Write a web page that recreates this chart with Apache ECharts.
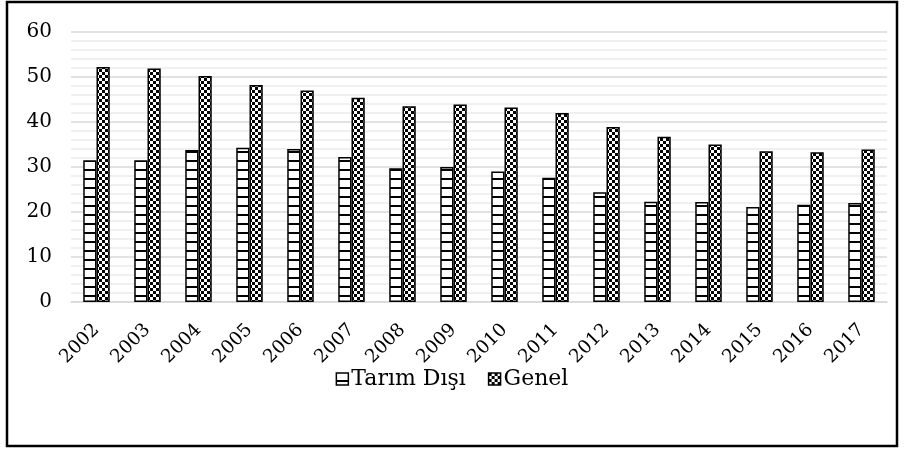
<!DOCTYPE html>
<html>
<head>
<meta charset="utf-8">
<script src="https://cdn.jsdelivr.net/npm/echarts@6/dist/echarts.min.js"></script>
<style>
html,body{margin:0;padding:0;background:#fff;}
#chart{width:904px;height:451px;}
</style>
</head>
<body>
<div id="chart"></div>
<script>
const categories = ['2002','2003','2004','2005','2006','2007','2008','2009','2010','2011','2012','2013','2014','2015','2016','2017'];
const tarimDisi = [31.5,31.5,33.8,34.3,34.0,32.2,29.7,30.0,29.0,27.6,24.4,22.3,22.2,21.1,21.6,22.0];
const genel = [52.2,51.9,50.2,48.2,47.0,45.4,43.5,43.9,43.2,42.0,38.9,36.7,35.0,33.5,33.3,33.9];
const seriesNames = ['Tarım Dışı','Genel'];

function stripePattern(){
  const c = document.createElement('canvas');
  c.width = 8; c.height = 9;
  const g = c.getContext('2d');
  g.fillStyle = '#fff'; g.fillRect(0,0,8,9);
  g.fillStyle = '#000'; g.fillRect(0,7,8,2);
  return c;
}
function checkPattern(){
  const c = document.createElement('canvas');
  c.width = 6; c.height = 6;
  const g = c.getContext('2d');
  g.fillStyle = '#fff'; g.fillRect(0,0,6,6);
  g.fillStyle = '#000'; g.fillRect(0,0,3,3); g.fillRect(3,3,3,3);
  return c;
}
const FONT = '"DejaVu Serif", "Liberation Serif", serif';
const chart = echarts.init(document.getElementById('chart'));
chart.setOption({
  animation:false,
  backgroundColor:'#fff',
  textStyle:{fontFamily:FONT,color:'#000'},
  graphic:[{type:'rect',shape:{x:7,y:2,width:890,height:444},style:{fill:'none',stroke:'#000',lineWidth:2.5},z:-1}],
  grid:{left:71,right:17,top:32,bottom:149},
  legend:{
    data:seriesNames, bottom:56, left:'center', itemGap:22,
    icon:'rect', itemWidth:12, itemHeight:12,
    textStyle:{fontFamily:FONT,fontSize:22,color:'#000',padding:[0,0,0,-2]},
    itemStyle:{borderColor:'#000',borderWidth:1.5}
  },
  xAxis:{
    type:'category', data:categories,
    axisLine:{lineStyle:{color:'#d9d9d9',width:1.5}},
    axisTick:{show:false},
    axisLabel:{rotate:45,fontFamily:FONT,fontSize:18.5,color:'#000',interval:0,margin:25}
  },
  yAxis:{
    type:'value', min:0, max:60, interval:10,
    axisLine:{show:false}, axisTick:{show:false},
    axisLabel:{fontFamily:FONT,fontSize:20,color:'#000',margin:19},
    splitLine:{lineStyle:{color:'#d9d9d9',width:1.5}},
    minorTick:{show:false,splitNumber:5},
    minorSplitLine:{show:true,lineStyle:{color:'#ececec',width:1.5}}
  },
  series:[
    {name:seriesNames[0],type:'bar',data:tarimDisi,barGap:'0%',barCategoryGap:'48%',
     itemStyle:{color:{image:stripePattern(),repeat:'repeat'},borderColor:'#000',borderWidth:1.5}},
    {name:seriesNames[1],type:'bar',data:genel,
     itemStyle:{color:{image:checkPattern(),repeat:'repeat'},borderColor:'#000',borderWidth:1.5}}
  ]
});
</script>
</body>
</html>
